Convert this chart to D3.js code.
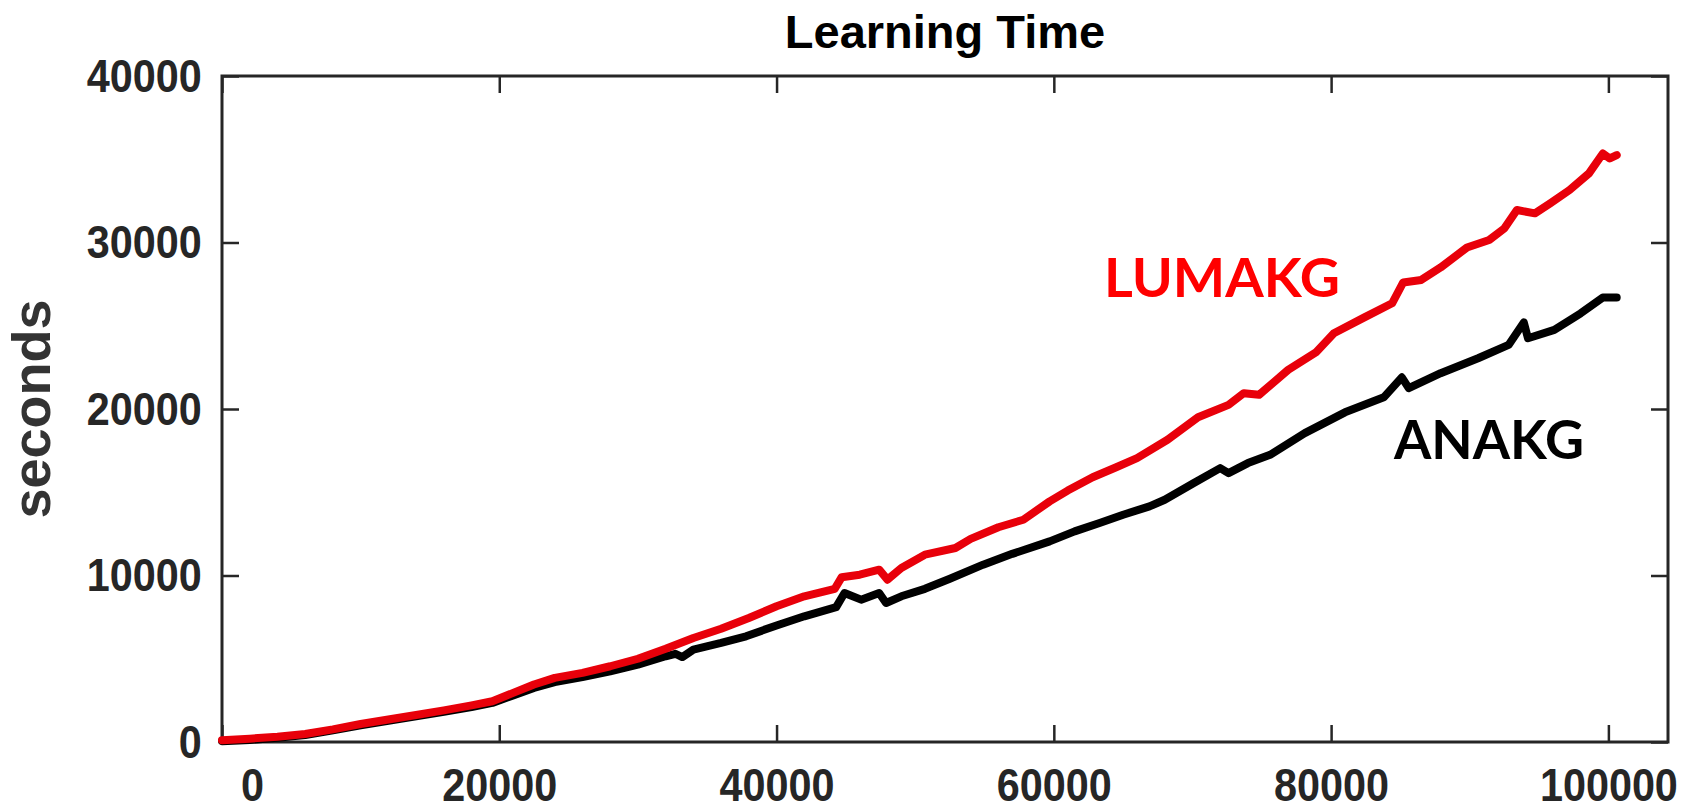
<!DOCTYPE html>
<html>
<head>
<meta charset="utf-8">
<script src="https://cdn.jsdelivr.net/npm/d3@7"></script>
<style>
  body { margin: 0; background: #fff; }
  svg { display: block; }
  .tick text { font-family: "Liberation Sans", Arial, sans-serif; font-weight: bold; font-size: 47px; fill: #262626; }
</style>
</head>
<body>
<div id="chart"></div>
<script>
// x positions (training samples) and learning time in seconds
const lumakgX = [0, 2000, 4000, 6000, 8000, 10000, 12000, 14000, 16000, 18000, 19500, 21000, 22500, 24000, 26000, 28000, 30000, 32000, 34000, 36000, 38000, 40000, 42000, 44200, 44700, 46000, 47400, 48000, 49000, 50700, 52900, 54000, 56000, 57800, 59700, 61000, 62800, 64500, 66000, 68200, 70400, 72600, 73700, 74800, 76900, 78900, 80200, 82400, 84400, 85200, 86500, 87900, 89800, 91400, 92500, 93400, 94700, 95800, 97200, 98600, 99600, 100100, 100600];
const lumakgY = [100, 200, 320, 480, 760, 1080, 1350, 1620, 1900, 2200, 2450, 2950, 3450, 3850, 4150, 4550, 5000, 5600, 6250, 6800, 7450, 8150, 8750, 9200, 9900, 10050, 10350, 9750, 10450, 11250, 11650, 12200, 12900, 13350, 14450, 15100, 15900, 16500, 17050, 18150, 19500, 20250, 20950, 20850, 22350, 23400, 24550, 25500, 26350, 27600, 27750, 28500, 29700, 30150, 30850, 31950, 31750, 32350, 33150, 34150, 35350, 35050, 35250];

const anakgX = [0, 2000, 4000, 6000, 8000, 10000, 12000, 14000, 16000, 18000, 19500, 21000, 22500, 24000, 26000, 28000, 30000, 32000, 32700, 33200, 34000, 36000, 37800, 40000, 42000, 44300, 44900, 46100, 47400, 47900, 49000, 50700, 52500, 54900, 57000, 59700, 61500, 63300, 65000, 66900, 68000, 70100, 72000, 72600, 74000, 75600, 78100, 81000, 83800, 85100, 85600, 87900, 90600, 92800, 93900, 94200, 96100, 98000, 99600, 100600];
const anakgY = [50, 120, 250, 420, 700, 1000, 1270, 1540, 1820, 2100, 2350, 2800, 3250, 3600, 3900, 4250, 4650, 5150, 5300, 5100, 5550, 5950, 6350, 7000, 7550, 8100, 8950, 8550, 8950, 8350, 8750, 9200, 9800, 10650, 11300, 12050, 12650, 13150, 13650, 14150, 14550, 15550, 16450, 16150, 16750, 17250, 18550, 19800, 20700, 21900, 21250, 22150, 23050, 23850, 25200, 24250, 24750, 25750, 26700, 26700];

const xTicks = [0, 20000, 40000, 60000, 80000, 100000];
const yTicks = [0, 10000, 20000, 30000, 40000];

const W = 1694, H = 812;
const margin = {top: 76, right: 26, bottom: 70, left: 222};
const width = W - margin.left - margin.right;
const height = H - margin.top - margin.bottom;

const svg = d3.select("#chart")
    .append("svg")
    .attr("width", W)
    .attr("height", H);

const g = svg.append("g")
    .attr("transform", "translate(" + margin.left + "," + margin.top + ")");

const x = d3.scaleLinear().domain([0, 104300]).range([0, width]);
const y = d3.scaleLinear().domain([0, 40000]).range([height, 0]);

const tickLen = 17;
const squeeze = 0.88; // tick labels in the figure are a bit narrower than Arial

// bottom axis with labels, ticks pointing inward
const xAxis = g.append("g")
    .attr("transform", "translate(0," + height + ")")
    .call(d3.axisBottom(x).tickValues(xTicks).tickSize(-tickLen).tickPadding(26).tickFormat(d3.format("d")));
// the "0" label sits a bit right of its tick in the figure
xAxis.selectAll(".tick text").filter(d => d === 0).attr("dx", 34);

// left axis with labels
const yAxis = g.append("g")
    .call(d3.axisLeft(y).tickValues(yTicks).tickSize(-tickLen).tickPadding(23).tickFormat(d3.format("d")));

g.selectAll(".tick text").attr("transform", "scale(" + squeeze + ",1)");

// top and right: ticks only
g.append("g")
    .call(d3.axisTop(x).tickValues(xTicks).tickSize(-tickLen).tickFormat(""));
g.append("g")
    .attr("transform", "translate(" + width + ",0)")
    .call(d3.axisRight(y).tickValues(yTicks).tickSize(-tickLen).tickFormat(""));

g.selectAll(".domain").remove();
g.selectAll(".tick line").attr("stroke", "#262626").attr("stroke-width", 2.5);

// box
g.append("rect")
    .attr("width", width)
    .attr("height", height)
    .attr("fill", "none")
    .attr("stroke", "#262626")
    .attr("stroke-width", 3);

const line = d3.line()
    .x(d => x(d[0]))
    .y(d => y(d[1]));

g.append("path")
    .datum(d3.zip(anakgX, anakgY))
    .attr("d", line)
    .attr("fill", "none")
    .attr("stroke", "#000")
    .attr("stroke-width", 8)
    .attr("stroke-linejoin", "round")
    .attr("stroke-linecap", "round");

g.append("path")
    .datum(d3.zip(lumakgX, lumakgY))
    .attr("d", line)
    .attr("fill", "none")
    .attr("stroke", "#e8000a")
    .attr("stroke-width", 8)
    .attr("stroke-linejoin", "round")
    .attr("stroke-linecap", "round");

// series labels
svg.append("text")
    .attr("x", 1104).attr("y", 297)
    .attr("textLength", 236).attr("lengthAdjust", "spacingAndGlyphs")
    .style("font-family", "Lato, 'Open Sans', sans-serif")
    .style("font-weight", "bold")
    .style("font-size", "53px")
    .style("fill", "#ff0000")
    .text("LUMAKG");

svg.append("text")
    .attr("x", 1394).attr("y", 459)
    .attr("textLength", 190).attr("lengthAdjust", "spacingAndGlyphs")
    .style("font-family", "Lato, 'Open Sans', sans-serif")
    .style("font-weight", "bold")
    .style("font-size", "53px")
    .style("fill", "#000")
    .text("ANAKG");

// title
svg.append("text")
    .attr("x", margin.left + width / 2)
    .attr("y", 48)
    .attr("text-anchor", "middle")
    .style("font-family", "'Liberation Sans', Arial, sans-serif")
    .style("font-weight", "bold")
    .style("font-size", "47px")
    .style("fill", "#000")
    .text("Learning Time");

// y axis title
svg.append("text")
    .attr("transform", "translate(50," + (margin.top + height / 2) + ") rotate(-90)")
    .attr("text-anchor", "middle")
    .style("font-family", "'Liberation Sans', Arial, sans-serif")
    .style("font-weight", "bold")
    .style("font-size", "54px")
    .style("fill", "#333")
    .text("seconds");
</script>
</body>
</html>
